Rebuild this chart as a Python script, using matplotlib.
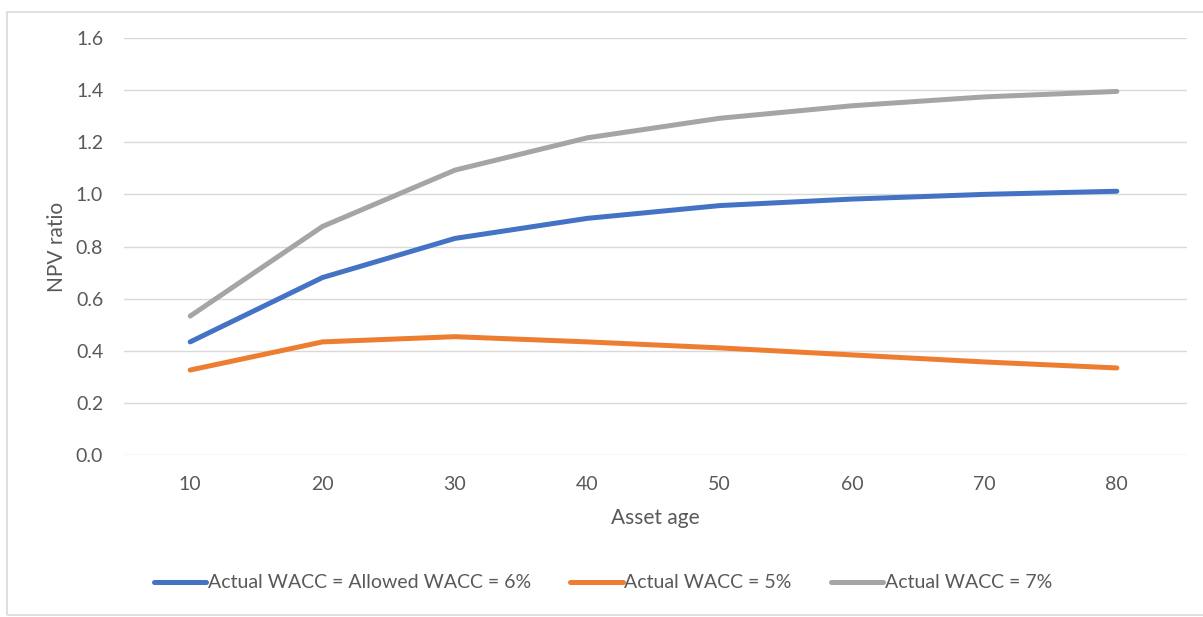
import matplotlib
matplotlib.use("Agg")
import matplotlib.pyplot as plt
from matplotlib.patches import Rectangle

asset_age = [10, 20, 30, 40, 50, 60, 70, 80]
wacc_6 = [0.434, 0.681, 0.831, 0.908, 0.957, 0.982, 1.000, 1.012]
wacc_5 = [0.326, 0.434, 0.454, 0.434, 0.411, 0.384, 0.357, 0.334]
wacc_7 = [0.533, 0.877, 1.093, 1.217, 1.292, 1.340, 1.374, 1.395]
labels = ["Actual WACC = Allowed WACC = 6%", "Actual WACC = 5%", "Actual WACC = 7%"]
colors = ["#4472C4", "#ED7D31", "#A5A5A5"]
yticks = [0.0, 0.2, 0.4, 0.6, 0.8, 1.0, 1.2, 1.4, 1.6]

plt.rcParams['font.family'] = ['Lato', 'DejaVu Sans']
txt = "#595959"

fig = plt.figure(figsize=(12.03, 6.17), dpi=100)
ax = fig.add_axes([124/1203, 1-455/617, (1187-124)/1203, (455-38)/617])

for series, lab, c in zip([wacc_6, wacc_5, wacc_7], labels, colors):
    ax.plot(asset_age, series, color=c, lw=3.6, label=lab, solid_capstyle='round')

ax.set_xlim(5, 85.3)
ax.set_ylim(0, 1.6)
ax.set_yticks(yticks)
ax.set_yticklabels([f"{v:.1f}" for v in yticks])
ax.set_xticks(asset_age)
ax.grid(axis='y', color='#D9D9D9', lw=1)
ax.set_axisbelow(True)
for s in ax.spines.values():
    s.set_visible(False)
ax.tick_params(length=0, labelsize=14, colors=txt)
ax.tick_params(axis='y', pad=15)
ax.tick_params(axis='x', pad=15)
ax.set_xlabel("Asset age", fontsize=15, color=txt, labelpad=11)
ax.set_ylabel("NPV ratio", fontsize=15, color=txt, labelpad=6)

leg = ax.legend(loc='center', bbox_to_anchor=(603/1203, 1-583/617), bbox_transform=fig.transFigure,
                ncol=3, frameon=False, fontsize=14, handlelength=2.7, handletextpad=0.1,
                columnspacing=2.0, labelcolor=txt)

fig.patches.append(Rectangle((7/1203, 1-615/617), 1.0, (615-12)/617, transform=fig.transFigure,
                             fill=False, edgecolor='#D9D9D9', lw=1.2))

fig.savefig("out.png", dpi=100)
